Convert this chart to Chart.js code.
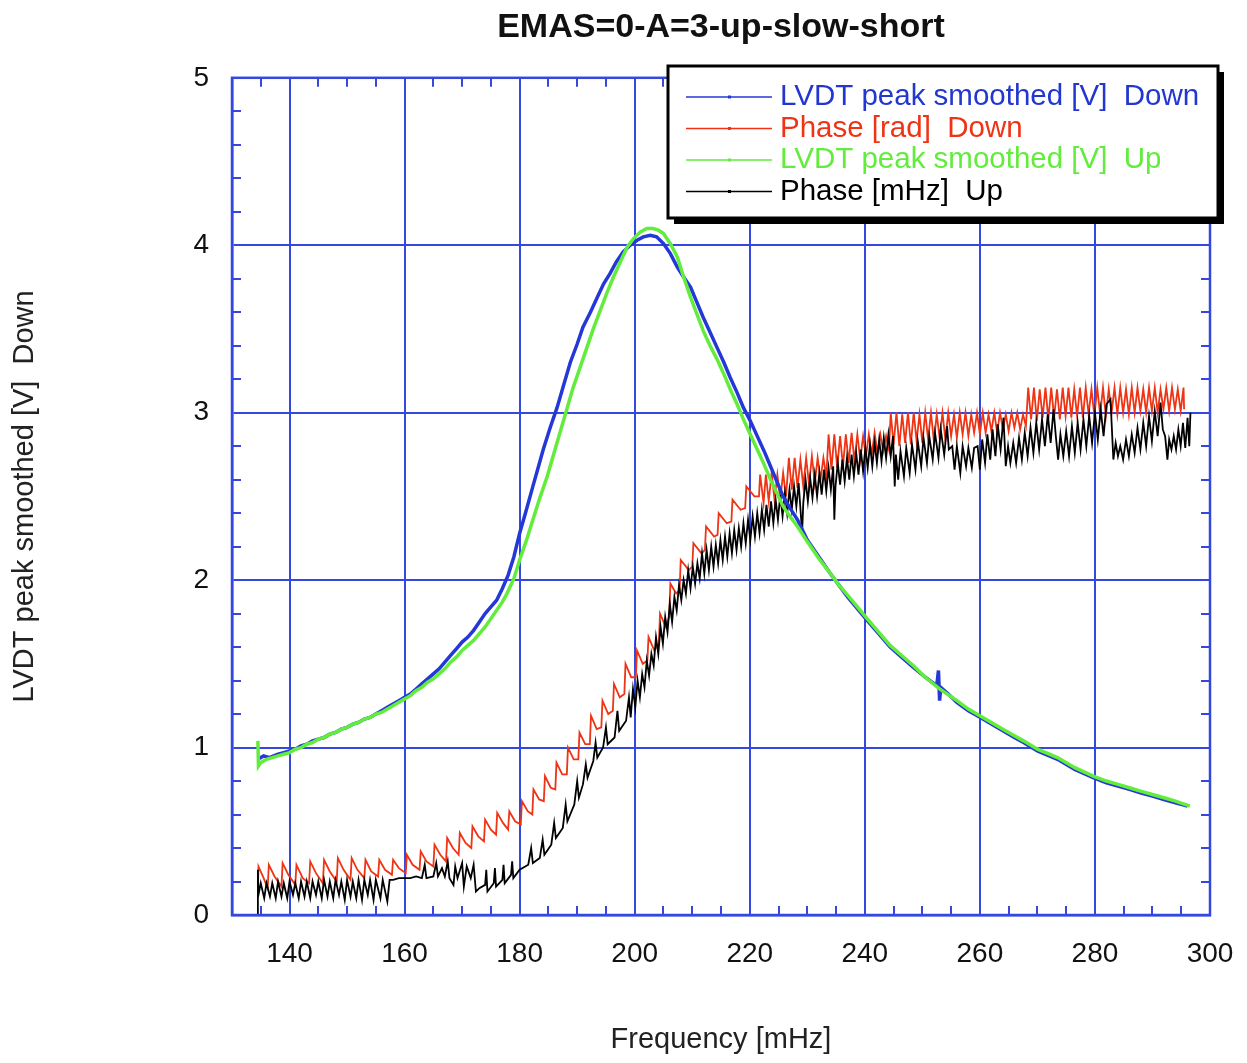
<!DOCTYPE html>
<html>
<head>
<meta charset="utf-8">
<script src="https://cdn.jsdelivr.net/npm/chart.js@4.4.1/dist/chart.umd.min.js"></script>
<style>
  html, body { margin: 0; padding: 0; background: #ffffff; }
  #wrap { width: 1247px; height: 1063px; }
</style>
</head>
<body>
<div id="wrap"><canvas id="c" width="1247" height="1063"></canvas></div>
<script>
// ---------------- data ----------------
const chartTitle = "EMAS=0-A=3-up-slow-short";
const xAxisTitle = "Frequency [mHz]";
const yAxisTitle = "LVDT peak smoothed [V]  Down";
const seriesLabels = ["LVDT peak smoothed [V]  Down", "Phase [rad]  Down", "LVDT peak smoothed [V]  Up", "Phase [mHz]  Up"];
const xTickValues = [140, 160, 180, 200, 220, 240, 260, 280, 300];
const yTickValues = [0, 1, 2, 3, 4, 5];

// LVDT peak smoothed [V] Down  (blue)
const lvdtDown = [
  [134.5,0.93],[135.5,0.95],[136.5,0.94],[138,0.96],[139,0.97],[140,0.98],[141,0.99],[142,1.01],[143,1.02],[144,1.04],
  [145,1.05],[146,1.06],[147,1.08],[148,1.09],[149,1.11],[150,1.12],[151,1.14],[152,1.15],[153,1.17],[154,1.18],
  [155,1.20],[156,1.22],[157,1.24],[158,1.26],[159,1.28],[160,1.30],[161,1.32],[162,1.35],[163,1.38],[164,1.41],
  [165,1.44],[166,1.47],[167,1.51],[168,1.55],[169,1.59],[170,1.63],[171,1.66],[172,1.70],[173,1.75],[174,1.80],
  [175,1.84],[176,1.88],[177,1.95],[178,2.03],[179,2.14],[180,2.28],[181,2.40],[182.3,2.56],[183.2,2.67],[184.1,2.78],
  [185.3,2.91],[186.5,3.03],[187.6,3.16],[188.8,3.30],[190,3.41],[191,3.51],[192.3,3.60],[193.5,3.69],[194.6,3.77],[195.7,3.83],
  [196.8,3.90],[198,3.96],[199.2,4.00],[200.4,4.03],[201.5,4.05],[202.7,4.06],[203.8,4.05],[205,4.01],[206.2,3.95],[207.4,3.87],
  [208.5,3.81],[209.7,3.75],[210.8,3.66],[211.9,3.57],[213.1,3.48],[214.3,3.39],[215.5,3.30],[216.6,3.21],[217.8,3.12],[218.9,3.03],
  [220.1,2.95],[221.3,2.86],[222.5,2.77],[223.6,2.68],[224.7,2.59],[225.8,2.50],[227,2.43],[228.3,2.36],[230,2.24],[232,2.14],
  [234,2.04],[235.5,1.97],[237,1.90],[238.7,1.83],[240.4,1.76],[242.4,1.68],[244.4,1.60],[246.4,1.54],[248.4,1.48],[250.5,1.42],
  [252.5,1.37],[252.8,1.46],[253.0,1.28],[253.2,1.36],[254.5,1.32],[256,1.27],[258,1.22],[260.1,1.18],[262,1.14],[264,1.10],
  [266,1.06],[267.6,1.03],[270,0.98],[273.5,0.93],[276.5,0.87],[279.7,0.82],[282,0.79],[284,0.77],[286,0.75],[287.9,0.73],
  [290,0.71],[292,0.69],[294,0.67],[296.1,0.65]
];

// Phase [rad] Down  (red)
const phaseDown = [
  [134.5,0.14],[134.6,0.29],[135.5,0.22],[136.2,0.16],[136.4,0.30],[137.4,0.23],[138.6,0.17],[138.8,0.31],[139.8,0.24],[141.0,0.18],
  [141.2,0.30],[142.3,0.22],[143.4,0.19],[143.6,0.32],[144.6,0.25],[145.8,0.19],[146.0,0.33],[147.0,0.26],[148.2,0.20],[148.4,0.34],
  [149.4,0.27],[150.6,0.21],[150.8,0.34],[151.8,0.27],[153.0,0.22],[153.2,0.33],[154.2,0.26],[155.4,0.23],[155.6,0.33],[156.6,0.27],
  [157.8,0.24],[158.0,0.33],[159.0,0.28],[160.2,0.25],[160.4,0.36],[161.4,0.30],[162.6,0.27],[162.8,0.38],[163.8,0.32],[165.0,0.29],
  [165.2,0.42],[166.2,0.36],[167.2,0.32],[167.4,0.46],[168.4,0.40],[169.4,0.36],[169.6,0.49],[170.6,0.43],[171.6,0.40],[171.8,0.53],
  [172.8,0.47],[173.8,0.44],[174.0,0.57],[175.0,0.51],[175.9,0.48],[176.1,0.61],[177.1,0.55],[178.0,0.51],[178.2,0.62],[179.2,0.56],
  [180.2,0.54],[180.4,0.68],[181.4,0.62],[182.2,0.60],[182.4,0.75],[183.4,0.69],[184.2,0.68],[184.4,0.83],[185.4,0.76],[186.2,0.75],
  [186.4,0.91],[187.4,0.84],[188.2,0.84],[188.4,1.00],[189.4,0.93],[190.2,0.93],[190.4,1.09],[191.4,1.02],[192.2,1.02],[192.4,1.19],
  [193.4,1.11],[194.2,1.12],[194.4,1.28],[195.4,1.20],[196.2,1.22],[196.4,1.38],[197.4,1.30],[198.2,1.32],[198.4,1.50],[199.4,1.42],
  [200.2,1.42],[200.4,1.58],[201.4,1.50],[202.2,1.52],[202.4,1.66],[203.4,1.58],[204.2,1.62],[204.4,1.80],[205.4,1.72],[206.0,1.78],
  [206.2,1.98],[207.2,1.92],[207.8,1.94],[208.0,2.12],[209.4,2.06],[210.0,2.08],[210.2,2.22],[211.6,2.16],[212.2,2.18],[212.4,2.32],
  [213.8,2.26],[214.4,2.27],[214.6,2.40],[216.0,2.34],[216.8,2.35],[217.0,2.48],[218.4,2.42],[219.2,2.43],[219.4,2.56],[220.8,2.50],
  [221.6,2.50],[221.8,2.63],[222.4,2.46],[222.8,2.63],[223.3,2.47],[223.8,2.64],[224.3,2.48],[224.8,2.63],[225.3,2.48],[225.8,2.64],
  [226.3,2.50],[226.8,2.73],[227.3,2.54],[227.8,2.73],[228.3,2.55],[228.8,2.72],[229.3,2.56],[229.8,2.73],[230.3,2.57],[230.8,2.74],
  [231.3,2.58],[231.8,2.73],[232.3,2.60],[232.8,2.73],[233.3,2.62],[233.7,2.87],[234.2,2.66],[234.7,2.87],[235.2,2.67],[235.7,2.86],
  [236.2,2.68],[236.7,2.87],[237.2,2.70],[237.7,2.88],[238.2,2.71],[238.7,2.87],[239.2,2.72],[239.7,2.86],[240.2,2.74],[240.7,2.87],
  [241.2,2.75],[241.7,2.88],[242.2,2.76],[242.7,2.87],[243.2,2.77],[243.7,2.86],[244.2,2.78],[244.5,3.00],[245.0,2.81],[245.5,3.00],
  [246.0,2.80],[246.5,2.99],[247.0,2.82],[247.5,3.00],[248.0,2.81],[248.5,3.00],[249.0,2.83],[249.5,2.99],[250.0,2.82],[250.5,3.00],
  [251.0,2.84],[251.5,3.00],[252.0,2.83],[252.5,2.99],[253.0,2.85],[253.5,3.00],[254.0,2.84],[254.5,3.00],[255.0,2.86],[255.5,2.99],
  [256.0,2.85],[256.5,3.00],[257.0,2.87],[257.5,3.00],[258.0,2.86],[258.5,2.99],[259.0,2.88],[259.5,3.00],[260.0,2.87],[260.5,3.00],
  [261.0,2.88],[261.5,2.99],[262.0,2.89],[262.5,3.00],[263.0,2.88],[263.5,3.00],[264.0,2.90],[264.5,2.99],[265.0,2.89],[265.5,3.00],
  [266.0,2.91],[266.5,3.00],[267.0,2.90],[267.5,2.99],[268.0,2.92],[268.4,3.15],[268.9,2.96],[269.4,3.15],[269.9,2.95],[270.4,3.14],
  [270.9,2.97],[271.4,3.15],[271.9,2.96],[272.4,3.15],[272.9,2.97],[273.4,3.14],[273.9,2.96],[274.4,3.15],[274.9,2.98],[275.4,3.15],
  [275.9,2.97],[276.4,3.14],[276.9,2.98],[277.4,3.15],[277.9,2.97],[278.4,3.15],[278.9,2.99],[279.4,3.14],[279.9,2.98],[280.4,3.15],
  [280.9,2.99],[281.4,3.15],[281.9,2.98],[282.4,3.14],[282.9,3.00],[283.4,3.15],[283.9,2.99],[284.4,3.15],[284.9,3.00],[285.4,3.14],
  [285.9,2.99],[286.4,3.15],[286.9,3.00],[287.4,3.15],[287.9,3.01],[288.4,3.14],[288.9,3.00],[289.4,3.15],[289.9,3.01],[290.4,3.15],
  [290.9,3.00],[291.4,3.14],[291.9,3.02],[292.4,3.15],[292.9,3.01],[293.4,3.15],[293.9,3.02],[294.4,3.14],[294.9,3.01],[295.4,3.15],
  [295.5,3.02]
];

// LVDT peak smoothed [V] Up  (green)
const lvdtUp = [
  [134.5,1.04],[134.6,0.89],[135,0.91],[136,0.93],[137,0.94],[138,0.95],[139,0.96],[140,0.97],[141,0.99],[142,1.00],
  [143,1.02],[144,1.03],[145,1.05],[146,1.06],[147,1.08],[148,1.09],[149,1.11],[150,1.12],[151,1.14],[152,1.15],
  [153,1.17],[154,1.18],[155,1.20],[156,1.21],[157,1.23],[158,1.25],[159,1.27],[160,1.29],[161,1.31],[162,1.34],
  [163,1.36],[164,1.39],[165,1.41],[166,1.44],[167,1.47],[168,1.51],[169,1.54],[170,1.58],[171,1.61],[172,1.64],
  [173,1.68],[174,1.72],[175,1.77],[176,1.82],[177,1.87],[177.8,1.92],[179,2.01],[180,2.12],[181.2,2.24],[182.3,2.36],
  [183.5,2.49],[184.8,2.62],[185.9,2.75],[187,2.88],[188.2,3.02],[189.3,3.15],[190.5,3.27],[191.7,3.39],[192.8,3.50],[194,3.61],
  [195.1,3.71],[196.3,3.81],[197.5,3.90],[198.7,3.99],[199.8,4.04],[201,4.08],[202.1,4.10],[203.2,4.10],[204.1,4.09],[205,4.07],
  [206.2,4.01],[207.4,3.93],[208.5,3.81],[209.7,3.69],[210.8,3.59],[211.9,3.49],[213.1,3.40],[214.3,3.32],[215.5,3.23],[216.6,3.14],
  [217.8,3.05],[218.9,2.96],[220.1,2.87],[221.3,2.78],[222.5,2.69],[223.6,2.60],[224.7,2.52],[225.8,2.44],[227,2.38],[228.3,2.32],
  [230,2.23],[232,2.13],[234,2.04],[235.5,1.97],[237,1.91],[238.7,1.84],[240.4,1.77],[242.4,1.69],[244.4,1.61],[246.4,1.55],
  [248.4,1.49],[250.5,1.42],[253,1.35],[256,1.28],[258,1.23],[260,1.19],[262,1.15],[264,1.11],[266,1.07],[267.6,1.04],
  [270,0.99],[273.5,0.94],[276.5,0.88],[279.7,0.83],[282,0.80],[284,0.78],[286,0.76],[287.9,0.74],[290,0.72],[292,0.70],
  [294,0.68],[296.5,0.65]
];

// Phase [mHz] Up  (black)
const phaseUp = [
  [134.5,0.00],[134.5,0.27],[134.6,0.12],[135.0,0.19],[135.6,0.10],[136.0,0.19],[136.6,0.11],[137.0,0.19],[137.6,0.10],[138.0,0.20],
  [138.6,0.11],[139.0,0.19],[139.6,0.10],[140.0,0.20],[140.6,0.12],[141.0,0.19],[141.6,0.10],[142.0,0.20],[142.6,0.11],[143.0,0.20],
  [143.6,0.10],[144.0,0.20],[144.6,0.12],[145.0,0.20],[145.6,0.10],[146.0,0.21],[146.6,0.11],[147.0,0.20],[147.6,0.10],[148.0,0.21],
  [148.6,0.12],[149.0,0.20],[149.6,0.09],[150.0,0.21],[150.6,0.11],[151.0,0.20],[151.6,0.10],[152.0,0.21],[152.6,0.09],[153.0,0.21],
  [153.6,0.12],[154.0,0.21],[154.6,0.09],[155.0,0.21],[155.8,0.10],[156.2,0.21],[157.0,0.08],[157.4,0.21],[158.0,0.21],[159.0,0.22],
  [160.0,0.22],[161.0,0.22],[162.0,0.23],[163.0,0.22],[163.5,0.30],[163.8,0.22],[165.0,0.23],[165.5,0.31],[165.8,0.23],[166.5,0.28],
  [167.0,0.23],[167.5,0.32],[167.8,0.22],[168.5,0.18],[168.8,0.29],[169.2,0.22],[170.0,0.31],[170.3,0.17],[170.8,0.29],[171.5,0.22],
  [172.0,0.30],[172.4,0.14],[173.0,0.16],[174.0,0.18],[174.2,0.27],[174.4,0.14],[175.5,0.19],[175.7,0.28],[175.9,0.17],[177.0,0.21],
  [177.2,0.30],[177.4,0.19],[178.5,0.24],[178.7,0.32],[178.9,0.22],[180.0,0.27],[181.5,0.30],[182.0,0.40],[182.3,0.31],[183.5,0.34],
  [184.0,0.45],[184.3,0.36],[185.5,0.42],[186.0,0.55],[186.3,0.46],[187.5,0.52],[188.0,0.66],[188.3,0.56],[189.5,0.66],[190.0,0.80],
  [190.3,0.70],[191.0,0.78],[191.5,0.90],[191.8,0.82],[192.8,0.92],[193.2,1.03],[193.5,0.94],[194.5,1.00],[195.0,1.12],[195.3,1.02],
  [196.5,1.06],[197.0,1.22],[197.3,1.10],[198.5,1.16],[199.0,1.30],
  [199.3,1.18],[199.7,1.35],[200.1,1.24],[200.5,1.40],[200.9,1.30],[201.3,1.44],[201.7,1.36],[202.1,1.52],[202.5,1.43],[202.9,1.56],
  [203.3,1.49],[203.7,1.66],[204.1,1.56],[204.5,1.72],[204.9,1.62],[205.3,1.78],[205.7,1.69],[206.1,1.86],[206.5,1.75],[206.9,1.90],
  [207.3,1.82],[207.7,1.97],[208.1,1.88],[208.5,2.00],[208.9,1.92],[209.3,2.06],[209.7,1.95],[210.1,2.08],[210.5,1.98],[210.9,2.10],
  [211.3,2.01],[211.7,2.16],[212.1,2.04],[212.5,2.18],[212.9,2.06],[213.3,2.20],[213.7,2.08],[214.1,2.21],[214.5,2.10],[214.9,2.24],
  [215.3,2.12],[215.7,2.26],[216.1,2.14],[216.5,2.28],[216.9,2.16],[217.3,2.30],[217.7,2.18],[218.1,2.31],[218.5,2.20],[218.9,2.34],
  [219.3,2.22],[219.7,2.36],[220.1,2.24],[220.5,2.38],[220.9,2.26],[221.3,2.40],[221.7,2.28],[222.1,2.42],[222.5,2.30],[222.9,2.45],
  [223.3,2.32],[223.7,2.47],[224.1,2.34],[224.5,2.48],[224.9,2.36],[225.3,2.51],[225.7,2.38],[226.1,2.52],[226.5,2.40],[226.9,2.54],
  [227.3,2.42],[227.7,2.56],[228.1,2.44],[228.5,2.58],[229.1,2.28],[229.3,2.46],[229.7,2.60],[230.1,2.47],[230.5,2.61],[230.9,2.49],
  [231.3,2.63],[231.7,2.50],[232.1,2.64],[232.5,2.51],[232.9,2.66],[233.3,2.53],[233.7,2.67],[234.1,2.54],[234.5,2.68],[234.7,2.36],
  [234.9,2.56],[235.3,2.70],[235.7,2.57],[236.1,2.72],[236.5,2.59],[236.9,2.73],[237.3,2.60],[237.7,2.75],[238.1,2.62],[238.5,2.76],
  [238.9,2.63],[239.3,2.78],[239.7,2.65],[240.1,2.79],[240.5,2.67],[240.9,2.81],[241.3,2.68],[241.7,2.82],[242.1,2.70],[242.5,2.84],
  [242.9,2.71],[243.3,2.85],[243.7,2.73],[244.1,2.87],[244.5,2.74],[244.9,2.86],[245.2,2.56],[245.4,2.75],[245.8,2.60],[246.2,2.77],
  [246.8,2.62],[247.2,2.79],[247.8,2.64],[248.2,2.81],[248.8,2.66],[249.2,2.83],[249.8,2.68],[250.2,2.85],[250.8,2.70],[251.2,2.86],
  [251.8,2.72],[252.2,2.88],[252.8,2.73],[253.2,2.90],[253.8,2.75],[254.3,2.92],[254.6,2.78],[255.2,2.80],[255.6,2.66],[256.0,2.80],
  [256.6,2.64],[257.0,2.80],[257.6,2.68],[258.0,2.79],[258.6,2.67],[259.0,2.79],[259.6,2.80],[260.0,2.66],[260.4,2.84],[260.9,2.70],
  [261.3,2.87],[261.8,2.72],[262.2,2.90],[262.7,2.74],[263.1,2.93],[263.6,2.78],[264.1,2.97],[264.5,2.68],[264.9,2.80],[265.3,2.70],
  [265.8,2.82],[266.3,2.70],[266.8,2.85],[267.3,2.72],[267.8,2.88],[268.3,2.74],[268.8,2.91],[269.3,2.76],[269.8,2.94],[270.3,2.78],
  [270.8,2.96],[271.3,2.80],[271.8,2.99],[272.3,2.82],[272.8,3.02],[273.2,2.86],[273.6,2.72],[274.0,2.87],[274.5,2.74],[275.0,2.89],
  [275.5,2.74],[276.0,2.92],[276.5,2.76],[277.0,2.94],[277.5,2.78],[278.0,2.96],[278.5,2.80],[279.0,2.98],[279.5,2.82],[280.0,3.00],
  [280.5,2.84],[281.0,3.02],[281.5,2.86],[282.0,3.05],[282.7,3.08],[283.2,2.72],[283.6,2.82],[284.0,2.74],[284.4,2.80],[284.9,2.72],
  [285.4,2.84],[285.9,2.74],[286.4,2.87],[286.9,2.76],[287.4,2.91],[287.9,2.78],[288.4,2.94],[288.9,2.80],[289.4,2.98],[289.9,2.83],
  [290.4,3.01],[290.9,2.86],[291.4,3.06],[291.8,2.90],[292.2,2.86],[292.6,2.72],[292.9,2.84],[293.3,2.78],[293.7,2.86],[294.1,2.78],
  [294.5,2.90],[294.9,2.80],[295.3,2.94],[295.7,2.79],[296.1,2.97],[296.4,2.80],[296.6,3.00]
];

const seriesColors = ["#2438d8", "#ee3414", "#62ec3c", "#000000"];
const legendTextColors = ["#2236d0", "#ee3414", "#62ec3c", "#000000"];

// ---------------- chart ----------------
const FONT = "'Liberation Sans', Arial, Helvetica, sans-serif";
const GRID_BLUE = "#3448e0";

const toXY = arr => arr.map(p => ({ x: p[0], y: p[1] }));

const minorTicksPlugin = {
  id: 'minorTicks',
  afterDraw(chart) {
    const { ctx, chartArea: a, scales: { x, y } } = chart;
    ctx.save();
    ctx.strokeStyle = GRID_BLUE;
    ctx.lineWidth = 2;
    ctx.beginPath();
    for (let v = 135; v < 300; v += 5) {
      if (v % 20 === 0) continue;
      const px = Math.round(x.getPixelForValue(v));
      ctx.moveTo(px, a.bottom); ctx.lineTo(px, a.bottom - 9);
      ctx.moveTo(px, a.top); ctx.lineTo(px, a.top + 9);
    }
    for (let i = 1; i < 25; i++) {
      if (i % 5 === 0) continue;
      const py = Math.round(y.getPixelForValue(i * 0.2));
      ctx.moveTo(a.left, py); ctx.lineTo(a.left + 9, py);
      ctx.moveTo(a.right, py); ctx.lineTo(a.right - 9, py);
    }
    ctx.stroke();
    ctx.lineWidth = 2.5;
    ctx.strokeRect(a.left, a.top, a.right - a.left, a.bottom - a.top);
    ctx.restore();
  }
};

const boxLegendPlugin = {
  id: 'boxLegend',
  afterDraw(chart) {
    const { ctx } = chart;
    const bx = 668, by = 66, bw = 550, bh = 152;
    ctx.save();
    ctx.fillStyle = "#000";
    ctx.fillRect(bx + 6, by + 6, bw, bh);
    ctx.fillStyle = "#fff";
    ctx.fillRect(bx, by, bw, bh);
    ctx.strokeStyle = "#000";
    ctx.lineWidth = 3;
    ctx.strokeRect(bx, by, bw, bh);
    ctx.font = "29.5px " + FONT;
    ctx.textBaseline = "middle";
    ctx.textAlign = "left";
    chart.data.datasets.forEach((ds, i) => {
      const ry = 97 + i * 31.5;
      ctx.strokeStyle = ds.borderColor;
      ctx.lineWidth = 1.5;
      ctx.beginPath();
      ctx.moveTo(686, ry); ctx.lineTo(772, ry);
      ctx.stroke();
      ctx.fillStyle = ds.borderColor;
      ctx.fillRect(728, ry - 1.5, 3, 3);
      ctx.fillStyle = legendTextColors[i];
      ctx.fillText(ds.label, 780, ry);
    });
    ctx.restore();
  }
};

new Chart(document.getElementById('c'), {
  type: 'scatter',
  data: {
    datasets: [
      { label: seriesLabels[0], data: toXY(lvdtDown), borderColor: seriesColors[0], backgroundColor: seriesColors[0], borderWidth: 3.5, order: 2 },
      { label: seriesLabels[1], data: toXY(phaseDown), borderColor: seriesColors[1], backgroundColor: seriesColors[1], borderWidth: 1.8, order: 4 },
      { label: seriesLabels[2], data: toXY(lvdtUp), borderColor: seriesColors[2], backgroundColor: seriesColors[2], borderWidth: 3.5, order: 1 },
      { label: seriesLabels[3], data: toXY(phaseUp), borderColor: seriesColors[3], backgroundColor: seriesColors[3], borderWidth: 1.8, order: 3 }
    ].map(d => Object.assign(d, { showLine: true, pointRadius: 0, pointHoverRadius: 0, tension: 0, fill: false }))
  },
  options: {
    responsive: false,
    animation: false,
    devicePixelRatio: 1,
    layout: { padding: { left: 0, right: 37, top: 0, bottom: 0 } },
    plugins: {
      legend: { display: false },
      tooltip: { enabled: false },
      title: {
        display: true,
        text: chartTitle,
        fullSize: false,
        color: "#111",
        font: { family: FONT, size: 34, weight: 'bold' },
        padding: { top: 7, bottom: 30 }
      }
    },
    scales: {
      x: {
        type: 'linear',
        min: 130, max: 300,
        afterBuildTicks: s => { s.ticks = xTickValues.map(v => ({ value: v })); },
        afterFit: s => { s.height = 148; s.paddingLeft = 0; s.paddingRight = 0; },
        grid: { color: GRID_BLUE, lineWidth: 2, drawTicks: false },
        border: { color: GRID_BLUE, width: 2.5 },
        ticks: { color: "#111", font: { family: FONT, size: 28 }, padding: 22, maxRotation: 0, autoSkip: false },
        title: { display: true, text: xAxisTitle, color: "#222", font: { family: FONT, size: 29 }, padding: { top: 0, bottom: 6 } }
      },
      y: {
        type: 'linear',
        min: 0, max: 5,
        afterBuildTicks: s => { s.ticks = yTickValues.map(v => ({ value: v })); },
        afterFit: s => { s.width = 232; s.paddingTop = 0; s.paddingBottom = 0; },
        grid: { color: GRID_BLUE, lineWidth: 2, drawTicks: false },
        border: { color: GRID_BLUE, width: 2.5 },
        ticks: { color: "#111", font: { family: FONT, size: 28 }, padding: 23 },
        title: { display: true, text: yAxisTitle, color: "#222", font: { family: FONT, size: 29 }, padding: { top: 8, bottom: 0 } }
      }
    }
  },
  plugins: [minorTicksPlugin, boxLegendPlugin]
});
</script>
</body>
</html>
